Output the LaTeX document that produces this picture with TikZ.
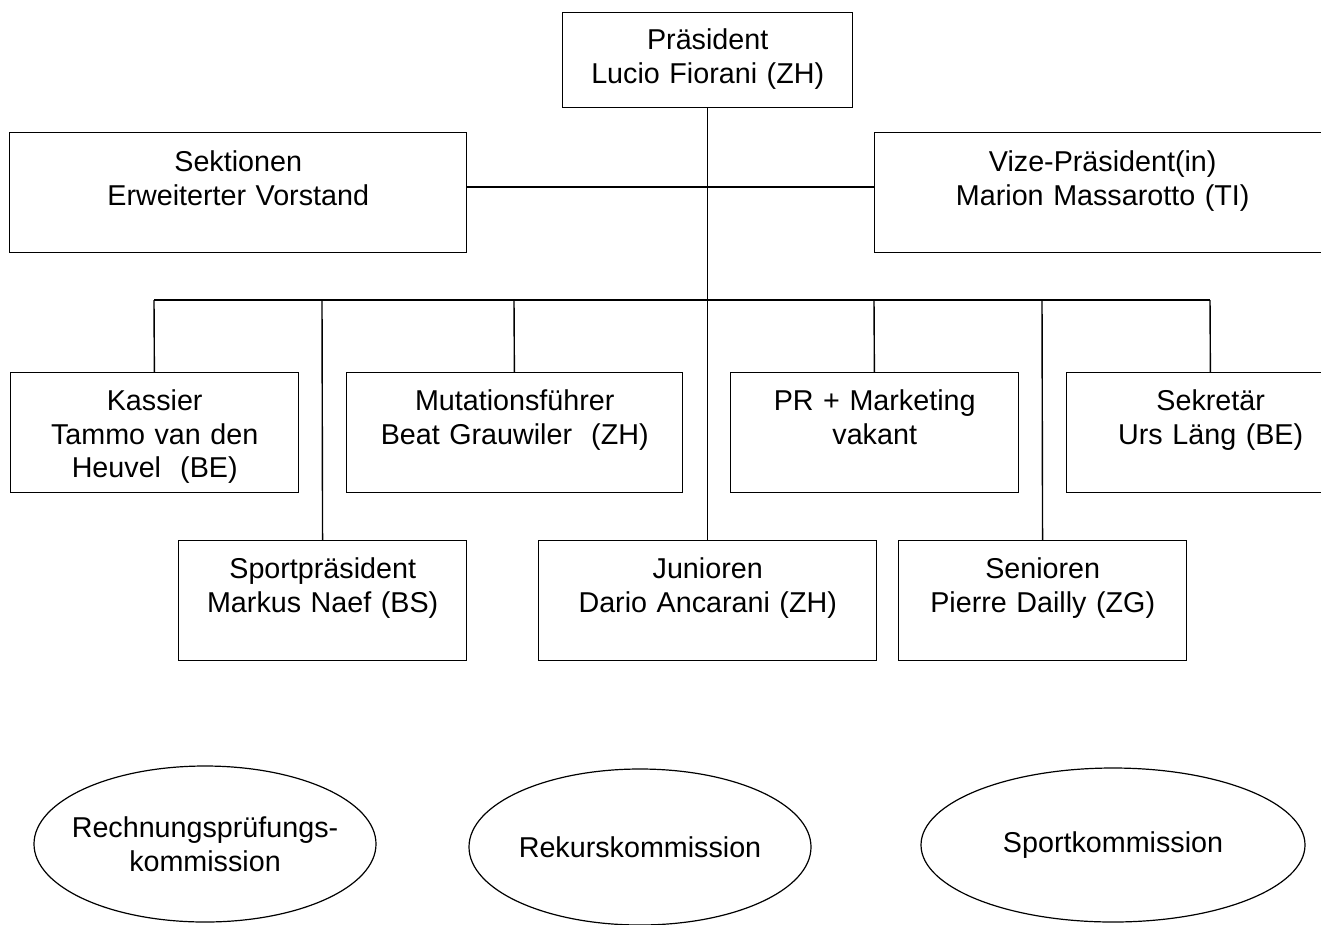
\documentclass[tikz,border=0pt]{standalone}
\usepackage{fontspec}
\setmainfont{Liberation Sans}
\usetikzlibrary{shapes.geometric}

\begin{document}
\begin{tikzpicture}[x=1pt,y=-1pt]
        \useasboundingbox (0,0) rectangle (1321,924);
        \begin{scope}[every node/.style={draw,line width=1.4pt,inner sep=0pt,anchor=north west,align=center,font=\fontsize{28.7}{33.5}\selectfont}]
          \node[text width=290pt,text height=37pt,text depth=58pt] (praes) at (562,12) {Präsident\\Lucio Fiorani (ZH)};
          \node[text width=457pt,text height=39pt,text depth=81pt] (sekt) at (9,132) {Sektionen\\Erweiterter Vorstand};
          \node[text width=456pt,text height=39pt,text depth=81pt] (vize) at (874,132) {Vize-Präsident(in)\\Marion Massarotto (TI)};

          \node[text width=288pt,text height=38pt,text depth=82pt] (kassier) at (10,372) {Kassier\\Tammo van den\\Heuvel~ (BE)};
          \node[text width=336pt,text height=38pt,text depth=82pt] (mutation) at (346,372) {Mutationsführer\\Beat Grauwiler~ (ZH)};
          \node[text width=288pt,text height=38pt,text depth=82pt] (pr) at (730,372) {PR + Marketing\\vakant};
          \node[text width=288pt,text height=38pt,text depth=82pt] (sekretaer) at (1066,372) {Sekretär\\Urs Läng (BE)};

          \node[text width=288pt,text height=38pt,text depth=82pt] (sportpraes) at (178,540) {Sportpräsident\\Markus Naef (BS)};
          \node[text width=338pt,text height=38pt,text depth=82pt] (junioren) at (538,540) {Junioren\\Dario Ancarani (ZH)};
          \node[text width=288pt,text height=38pt,text depth=82pt] (senioren) at (898,540) {Senioren\\Pierre Dailly (ZG)};
        \end{scope}
        \begin{scope}[every node/.style={draw,ellipse,line width=1.2pt,inner xsep=-30pt,inner ysep=0pt,align=center,font=\fontsize{28.7}{33.5}\selectfont}]
          \node[minimum width=342pt,minimum height=156pt] (rpk) at (205,844) {Rechnungsprüfungs-\\kommission};
          \node[minimum width=342pt,minimum height=156pt] (rek) at (640,847) {Rekurskommission};
          \node[minimum width=384pt,minimum height=154pt] (spk) at (1113,845) {Sportkommission};
        \end{scope}
        \begin{scope}[every edge/.style={draw=black,line width=1.4pt}]
          \coordinate (hub) at (707,187);
          \coordinate (b1) at (154,300);
          \coordinate (b2) at (322,300);
          \coordinate (b3) at (514,300);
          \coordinate (b5) at (874,300);
          \coordinate (b6) at (1042,300);
          \coordinate (b7) at (1210,300);
          \path (praes) edge (junioren);
          \path (sekt.east |- hub) edge (vize.west |- hub);
          \path (b1) edge (b7);
          \path (b1) edge (kassier);
          \path (b2) edge (sportpraes);
          \path (b3) edge (mutation);
          \path (b5) edge (pr);
          \path (b6) edge (senioren);
          \path (b7) edge (sekretaer);
        \end{scope}
\end{tikzpicture}
\end{document}
